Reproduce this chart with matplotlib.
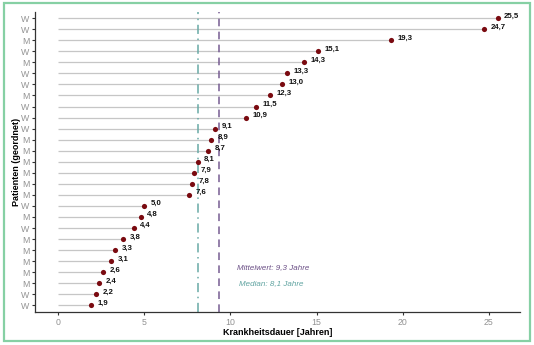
import matplotlib.pyplot as plt
from matplotlib.patches import Rectangle

plt.rcParams['font.family'] = ['Liberation Sans', 'DejaVu Sans']

# Krankheitsdauer je Patient, von oben nach unten sortiert
geschlecht = ["W", "W", "M", "W", "M", "W", "W", "M", "W", "W", "W", "M", "M", "M",
              "M", "M", "M", "W", "M", "W", "M", "M", "M", "M", "M", "W", "W"]
dauer = [25.5, 24.7, 19.3, 15.1, 14.3, 13.3, 13.0, 12.3, 11.5, 10.9, 9.1, 8.9, 8.7, 8.1,
         7.9, 7.8, 7.6, 5.0, 4.8, 4.4, 3.8, 3.3, 3.1, 2.6, 2.4, 2.2, 1.9]
x_ticks = [0, 5, 10, 15, 20, 25]

mittelwert = sum(dauer) / len(dauer)
median = sorted(dauer)[len(dauer) // 2]

n = len(dauer)
ypos = [n - i for i in range(n)]

fig = plt.figure(figsize=(5.34, 3.45), dpi=100)
ax = fig.add_axes([35 / 534, 1 - 312 / 345, 485 / 534, 300.5 / 345])

ax.hlines(ypos, 0, dauer, color="#c6c6c6", lw=0.9, zorder=1)
ax.scatter(dauer, ypos, s=14, color="#7a0a10", zorder=3, linewidths=0)
for x, y in zip(dauer, ypos):
    ax.text(x + 0.38, y + 0.2, f"{x:.1f}".replace(".", ","), fontsize=5.6,
            fontweight="bold", color="#111111", ha="left", va="center", zorder=4)

ax.axvline(mittelwert, color="#775c92", lw=1.1, ls=(0, (5, 3.5)), zorder=2)
ax.axvline(median, color="#68aaa6", lw=1.1, ls=(0, (6, 3, 1, 3)), zorder=2)

ax.text(10.4, 4.45, f"Mittelwert: {mittelwert:.1f} Jahre".replace(".", ","),
        fontsize=5.8, style="italic", color="#6b4f86", ha="left", va="center")
ax.text(10.5, 3.0, f"Median: {median:.1f} Jahre".replace(".", ","),
        fontsize=5.8, style="italic", color="#5fa3a0", ha="left", va="center")

ax.set_xlim(-1.33, 26.8)
ax.set_ylim(0.4, n + 0.6)
ax.set_xticks(x_ticks)
ax.set_yticks(ypos)
ax.set_yticklabels(geschlecht)
ax.tick_params(axis="both", labelsize=6.3, labelcolor="#929292", color="#333333",
               length=2.5, width=0.8, pad=1.5)
for side in ["top", "right"]:
    ax.spines[side].set_visible(False)
for side in ["left", "bottom"]:
    ax.spines[side].set_color("#333333")
    ax.spines[side].set_linewidth(0.9)

ax.set_xlabel("Krankheitsdauer [Jahren]", fontsize=6.5, fontweight="bold", labelpad=1)
ax.set_ylabel("Patienten (geordnet)", fontsize=6.5, fontweight="bold", labelpad=0)

fig.patches.append(Rectangle((4 / 534, 4 / 345), 526 / 534, 338 / 345,
                             transform=fig.transFigure, fill=False,
                             edgecolor="#86d0a4", lw=1.6))

fig.savefig("out.png", dpi=100)
